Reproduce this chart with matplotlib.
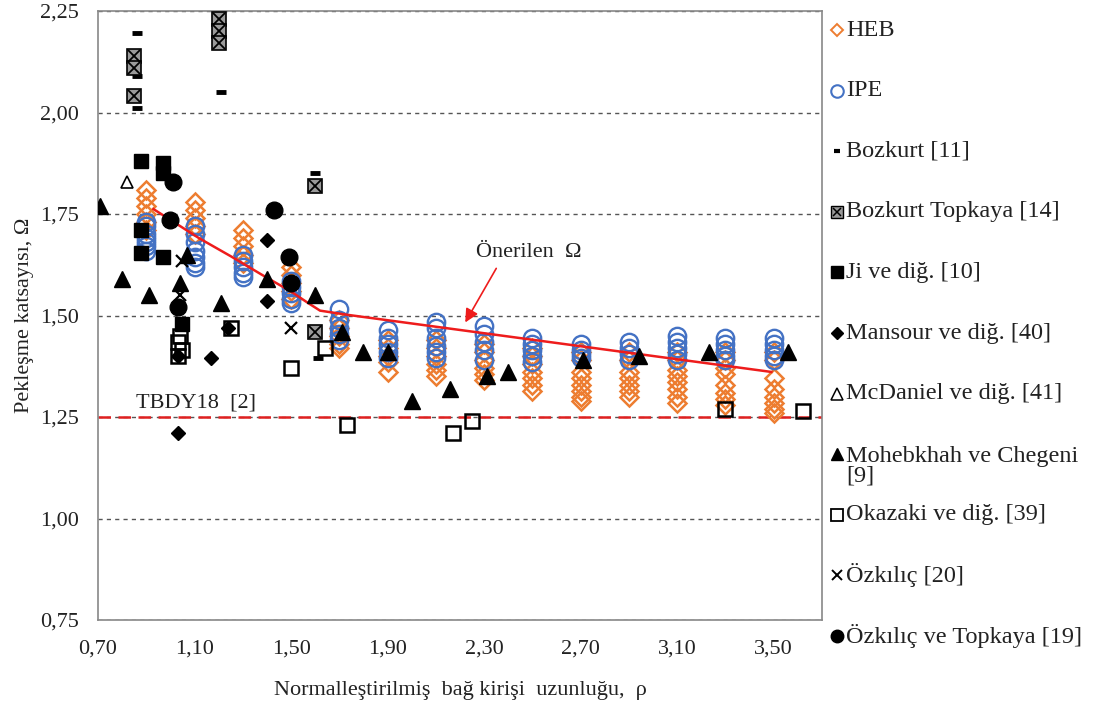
import numpy as np
import matplotlib.pyplot as plt

plt.rcParams['font.family'] = ['Liberation Serif', 'DejaVu Serif']

# HEB / IPE parametric results, grouped by normalized link length
rho_groups = [0.90, 1.10, 1.30, 1.50, 1.70, 1.90, 2.10, 2.30, 2.50, 2.70, 2.90, 3.10, 3.30, 3.50]
heb_omega = [
    [1.81, 1.79, 1.77, 1.75, 1.73, 1.71],
    [1.78, 1.76, 1.74, 1.72, 1.70],
    [1.71, 1.69, 1.67, 1.65, 1.63],
    [1.62, 1.60, 1.58, 1.56, 1.54],
    [1.49, 1.47, 1.45, 1.43, 1.42],
    [1.44, 1.42, 1.40, 1.385, 1.36],
    [1.44, 1.42, 1.40, 1.38, 1.365, 1.35],
    [1.43, 1.41, 1.39, 1.37, 1.355, 1.34],
    [1.42, 1.40, 1.38, 1.36, 1.345, 1.33, 1.315],
    [1.41, 1.39, 1.36, 1.345, 1.33, 1.315, 1.30, 1.29],
    [1.41, 1.39, 1.36, 1.345, 1.33, 1.315, 1.30],
    [1.41, 1.39, 1.365, 1.35, 1.335, 1.32, 1.30, 1.285],
    [1.41, 1.39, 1.37, 1.355, 1.33, 1.31, 1.295, 1.28],
    [1.41, 1.39, 1.345, 1.32, 1.30, 1.285, 1.27, 1.26],
]
ipe_omega = [
    [1.73, 1.72, 1.70, 1.69, 1.68, 1.67, 1.66],
    [1.72, 1.70, 1.68, 1.66, 1.645, 1.63, 1.62],
    [1.65, 1.635, 1.62, 1.605, 1.595],
    [1.585, 1.57, 1.555, 1.54, 1.53],
    [1.515, 1.49, 1.47, 1.455, 1.44],
    [1.465, 1.445, 1.43, 1.41, 1.395],
    [1.485, 1.47, 1.445, 1.425, 1.41, 1.395],
    [1.475, 1.455, 1.435, 1.415, 1.39],
    [1.445, 1.43, 1.415, 1.40, 1.385],
    [1.43, 1.415, 1.405, 1.395],
    [1.435, 1.42, 1.405, 1.39],
    [1.45, 1.435, 1.42, 1.405, 1.39],
    [1.445, 1.43, 1.415, 1.40, 1.39],
    [1.445, 1.43, 1.415, 1.40, 1.39],
]

# experimental / literature data
bozkurt_rho = [0.86, 0.86, 0.86, 1.21, 1.60, 1.61]
bozkurt_om = [2.195, 2.09, 2.01, 2.05, 1.85, 1.395]
boztop_rho = [0.85, 0.85, 0.85, 1.20, 1.20, 1.20, 1.60, 1.60]
boztop_om = [2.14, 2.11, 2.04, 2.23, 2.20, 2.17, 1.82, 1.46]
ji_rho = [0.88, 0.97, 0.97, 0.88, 0.88, 0.97, 1.05]
ji_om = [1.88, 1.875, 1.85, 1.71, 1.655, 1.645, 1.48]
mansour_rho = [1.40, 1.40, 1.17, 1.24, 1.03, 1.03, 1.03]
mansour_om = [1.685, 1.535, 1.395, 1.47, 1.21, 1.52, 1.40]
mcdaniel_rho = [0.82]
mcdaniel_om = [1.83]
moheb_rho = [0.71, 0.80, 0.91, 1.07, 1.04, 1.21, 1.40, 1.60, 1.71, 1.80, 1.90, 2.00, 2.16, 2.31,
             2.40, 2.71, 2.94, 3.23, 3.56]
moheb_om = [1.77, 1.59, 1.55, 1.65, 1.58, 1.53, 1.59, 1.55, 1.46, 1.41, 1.41, 1.29, 1.32, 1.35,
            1.36, 1.39, 1.40, 1.41, 1.41]
okazaki_rho = [1.04, 1.03, 1.03, 1.05, 1.25, 1.64, 1.50, 1.73, 2.17, 2.25, 3.30, 3.62]
okazaki_om = [1.45, 1.435, 1.40, 1.415, 1.47, 1.42, 1.37, 1.23, 1.21, 1.24, 1.27, 1.265]
ozkilic_rho = [1.05, 1.04, 1.50]
ozkilic_om = [1.635, 1.55, 1.47]
ozktop_rho = [1.01, 1.00, 1.03, 1.43, 1.49, 1.50]
ozktop_om = [1.83, 1.735, 1.52, 1.76, 1.645, 1.58]

# proposed Omega curve and code limit
oner_rho = [0.93, 1.12, 1.25, 1.38, 1.50, 1.57, 1.62, 1.73, 3.49]
oner_om = [1.762, 1.69, 1.646, 1.60, 1.559, 1.531, 1.512, 1.502, 1.361]
tbdy_om = 1.25

orange = '#ED7D31'
blue = '#4472C4'

fig = plt.figure(figsize=(10.94, 7.15), dpi=100)
ax = fig.add_axes([98 / 1094, 1 - 620 / 715, (822 - 98) / 1094, (620 - 11) / 715])

heb_x = np.repeat(rho_groups, [len(g) for g in heb_omega])
ipe_x = np.repeat(rho_groups, [len(g) for g in ipe_omega])
ax.plot(heb_x, np.concatenate(heb_omega), 'D', ms=9, mfc='none', mec=orange, mew=1.8, ls='none', zorder=3)
ax.plot(ipe_x, np.concatenate(ipe_omega), 'o', ms=12.5, mfc='none', mec=blue, mew=1.7, ls='none', zorder=4)

ax.plot(oner_rho, oner_om, color='#ee1c1c', lw=1.8, zorder=5)
ax.axhline(tbdy_om, color='#e02020', lw=1.8, ls=(0, (5, 3)), zorder=2)

k = dict(ls='none', zorder=6)
ax.plot(bozkurt_rho, bozkurt_om, '_', ms=7, mew=3.5, color='black', **k)
ax.plot(boztop_rho, boztop_om, 's', ms=10, mfc='#9a9a9a', mec='black', mew=1.2, **k)
ax.plot(boztop_rho, boztop_om, 'x', ms=8, mew=1.3, color='black', **k)
ax.plot(ji_rho, ji_om, 's', ms=10, color='black', **k)
ax.plot(mansour_rho, mansour_om, 'D', ms=7, color='black', **k)
ax.plot(mcdaniel_rho, mcdaniel_om, '^', ms=9, mfc='white', mec='black', mew=1.2, **k)
ax.plot(moheb_rho, moheb_om, '^', ms=11, color='black', **k)
ax.plot(okazaki_rho, okazaki_om, 's', ms=10, mfc='none', mec='black', mew=1.8, **k)
ax.plot(ozkilic_rho, ozkilic_om, 'x', ms=9, mew=1.6, color='black', **k)
ax.plot(ozktop_rho, ozktop_om, 'o', ms=12, color='black', **k)

ax.set_xlim(0.7, 3.7)
ax.set_ylim(0.75, 2.25)
xt = np.arange(0.7, 3.51, 0.4)
yt = np.arange(0.75, 2.26, 0.25)
ax.set_xticks(xt, [f'{v:.2f}'.replace('.', ',') for v in xt])
ax.set_yticks(yt, [f'{v:.2f}'.replace('.', ',') for v in yt])
ax.tick_params(length=0, labelsize=16, pad=14, colors='#222222')
ax.yaxis.grid(True, color='#555555', ls=(0, (3, 3)), lw=1)
ax.set_axisbelow(True)
for s in ax.spines.values():
    s.set_color('#888888')
    s.set_linewidth(1.2)

ax.set_xlabel('Normalleştirilmiş  bağ kirişi  uzunluğu,  ρ', fontsize=16, labelpad=16, color='#222222')
ax.set_ylabel('Pekleşme katsayısı, Ω', fontsize=16, labelpad=4, color='#222222')

ax.text(0.857, 1.285, 'TBDY18  [2]', fontsize=16, va='center', ha='left', color='#222222', zorder=7)
ax.text(2.485, 1.655, 'Önerilen  Ω', fontsize=16, va='center', ha='center', color='#222222')
ax.annotate('', xy=(2.216, 1.477), xytext=(2.356, 1.622),
            arrowprops=dict(arrowstyle='-|>', color='#ee1c1c', lw=1.2, mutation_scale=20), zorder=8)

# legend drawn in pixel coordinates on the right
lax = fig.add_axes([0, 0, 1, 1], facecolor='none')
lax.set_xlim(0, 1094)
lax.set_ylim(715, 0)
lax.axis('off')
leg_labels = ['HEB', 'IPE', 'Bozkurt [11]', 'Bozkurt Topkaya [14]', 'Ji ve diğ. [10]',
              'Mansour ve diğ. [40]', 'McDaniel ve diğ. [41]', 'Mohebkhah ve Chegeni\n[9]',
              'Okazaki ve diğ. [39]', 'Özkılıç [20]', 'Özkılıç ve Topkaya [19]']
leg_styles = [
    [dict(marker='D', ms=6, mfc='none', mec=orange, mew=1.4)],
    [dict(marker='o', ms=9, mfc='none', mec=blue, mew=1.5)],
    [dict(marker='_', ms=5, mew=3, color='black')],
    [dict(marker='s', ms=8, mfc='#9a9a9a', mec='black', mew=1), dict(marker='x', ms=6, mew=1.1, color='black')],
    [dict(marker='s', ms=9, color='black')],
    [dict(marker='D', ms=6, color='black')],
    [dict(marker='^', ms=8, mfc='white', mec='black', mew=1.1)],
    [dict(marker='^', ms=9, color='black')],
    [dict(marker='s', ms=8, mfc='none', mec='black', mew=1.3)],
    [dict(marker='x', ms=7, mew=1.4, color='black')],
    [dict(marker='o', ms=9, color='black')],
]
for i, (lab, sty) in enumerate(zip(leg_labels, leg_styles)):
    y = 30 + i * 60.6
    for st in sty:
        lax.plot([837], [y], ls='none', **st)
    ty = y + 12 if '\n' in lab else y
    lax.text(846, ty, lab, fontsize=17.5, va='center', ha='left', color='#222222', linespacing=0.95)

fig.savefig('out.png', dpi=100)
